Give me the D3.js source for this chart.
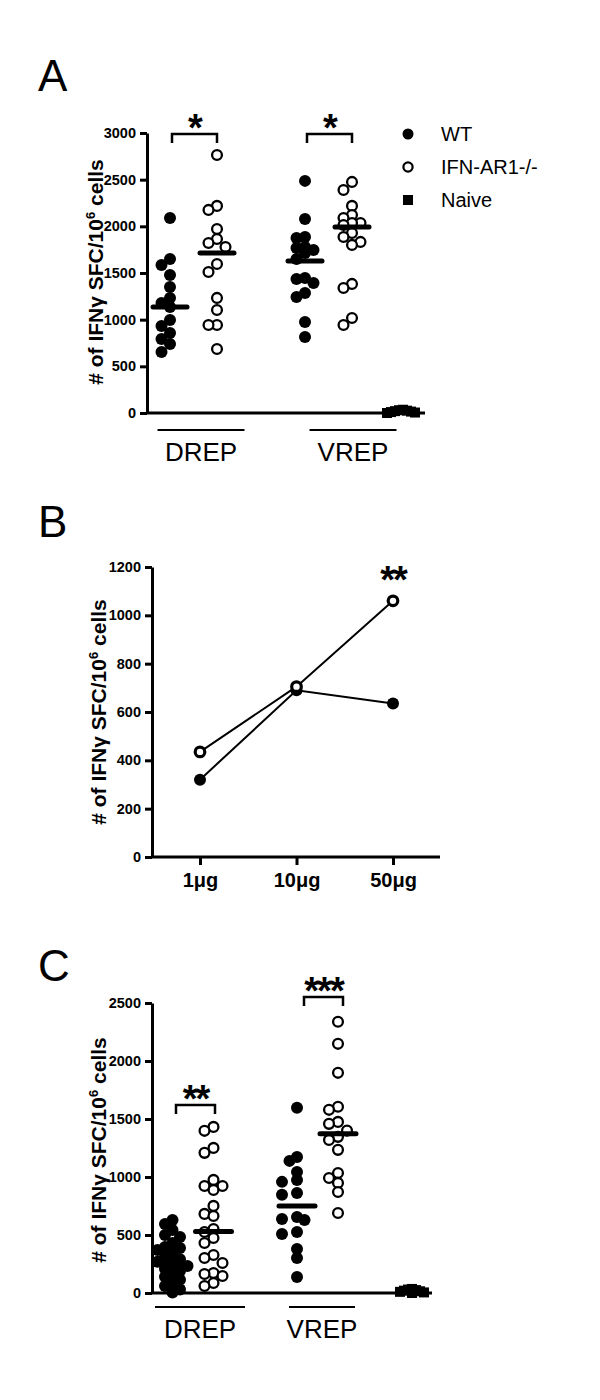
<!DOCTYPE html>
<html><head><meta charset="utf-8">
<script src="https://cdn.jsdelivr.net/npm/d3@7"></script>
<style>body{margin:0;background:#fff}svg{display:block}text{font-family:"Liberation Sans",Arial,sans-serif}</style>
</head><body>
<svg id="c" width="600" height="1400"></svg>
<script>
// ---------- DATA ----------
// Panel A
const aGroups = ["DREP", "VREP"];
const aWT_DREP  = [2090,1651,1586,1479,1350,1233,1179,1136,997,932,857,793,740,654];
const aIFN_DREP = [2765,2219,2176,1972,1865,1822,1779,1597,1511,1233,1104,943,943,686];
const aWT_VREP  = [2487,2079,1886,1876,1779,1768,1747,1715,1651,1447,1436,1393,1286,1243,975,815];
const aIFN_VREP = [2476,2390,2219,2122,2090,2036,2036,2015,1929,1886,1833,1801,1383,1340,1018,943];
const aNaive    = [5,20,35,10,0,25,15,30];
const aMeanWT   = [1136,1629];
const aMeanIFN  = [1715,1994];
const aTicks    = [0,500,1000,1500,2000,2500,3000];
const aSig      = ["*","*"];
const legendLabels = ["WT","IFN-AR1-/-","Naive"];
// Panel B
const bDoses  = ["1\u03bcg","10\u03bcg","50\u03bcg"];
const bWT     = [320,690,635];
const bIFN    = [435,705,1060];
const bTicks  = [0,200,400,600,800,1000,1200];
const bSig    = "**";
// Panel C
const cGroups = ["DREP","VREP"];
const cWT_DREP  = [630,595,544,500,483,430,397,388,371,340,311,290,270,250,232,210,190,165,140,115,90,60,30,5];
const cIFN_DREP = [1432,1398,1251,1208,975,923,923,889,751,682,664,552,526,474,431,328,302,259,173,164,147,86,60];
const cWT_VREP  = [1596,1173,1139,1044,975,958,863,846,656,638,630,526,509,380,302,138];
const cIFN_VREP = [2338,2148,1898,1605,1579,1475,1458,1400,1346,1320,1234,1035,992,949,871,690];
const cNaive    = [5,20,35,10,0,25,15,30];
const cMeanWT   = [245,750];
const cMeanIFN  = [530,1372];
const cTicks    = [0,500,1000,1500,2000,2500];
const cSig      = ["**","***"];
const yLabel = "# of IFN\u03b3 SFC/10";

// ---------- DRAW ----------
const svg = d3.select("#c");
const FONT = '"Liberation Sans",Arial,sans-serif';

function swarm(values, cx, y, step, minDist, maxSlots){
  const placed = [];
  values.map(v=>v).sort((a,b)=>b-a).forEach(v=>{
    const yy = y(v);
    let best = null, bestD = -1;
    for(let k=0;k<=2*maxSlots;k++){
      const off = k===0?0:(k%2?-1:1)*Math.ceil(k/2)*step;
      const x = cx+off;
      const dmin = placed.length? d3.min(placed,p=>Math.hypot(p.x-x,p.y-yy)) : Infinity;
      if(dmin>=minDist){best={x,y:yy,v};break;}
      if(dmin>bestD){bestD=dmin;best={x,y:yy,v};}
    }
    placed.push(best);
  });
  return placed;
}

function yAxis(g, y, ticks, x0){
  const ax = d3.axisLeft(y).tickValues(ticks).tickFormat(d3.format("d")).tickSize(7).tickSizeOuter(0).tickPadding(4);
  const gg = g.append("g").attr("transform",`translate(${x0},0)`).call(ax);
  gg.select(".domain").attr("stroke-width",3).attr("stroke","#000");
  gg.selectAll(".tick line").attr("stroke-width",3).attr("stroke","#000");
  gg.selectAll(".tick text").attr("font-family",FONT).attr("font-weight","bold").attr("font-size",14.5).attr("fill","#000");
}

function yTitle(g, cx, cy){
  const t = g.append("text").attr("transform",`translate(${cx},${cy}) rotate(-90)`)
    .attr("text-anchor","middle").attr("font-weight","bold").attr("font-size",21);
  t.append("tspan").text(yLabel);
  t.append("tspan").attr("dy",-8).attr("font-size",13).text("6");
  t.append("tspan").attr("dy",8).text(" cells");
}

function letter(t, x, y){
  svg.append("text").attr("x",x).attr("y",y).attr("font-size",44).text(t);
}

function dots(g, pts, filled, r){
  g.selectAll(null).data(pts).enter().append("circle")
    .attr("cx",d=>d.x).attr("cy",d=>d.y).attr("r",filled?r:r-1.1)
    .attr("fill",filled?"#000":"#fff").attr("stroke","#000").attr("stroke-width",filled?0:2.3);
}
function meanBar(g, cx, yv, w){
  g.append("line").attr("x1",cx-w/2).attr("x2",cx+w/2).attr("y1",yv).attr("y2",yv)
   .attr("stroke","#000").attr("stroke-width",5).attr("stroke-linecap","round");
}
function bracket(g, x1, x2, y, label, ystar){
  g.append("path").attr("d",`M${x1},${y+9}V${y}H${x2}V${y+9}`).attr("fill","none").attr("stroke","#000").attr("stroke-width",2.5);
  g.append("text").attr("x",(x1+x2)/2).attr("y",ystar).attr("text-anchor","middle")
   .attr("font-size",38).attr("font-weight","bold").attr("letter-spacing",-2).text(label);
}
function squares(g, pts, s){
  g.selectAll(null).data(pts).enter().append("rect")
    .attr("x",d=>d.x-s/2).attr("y",d=>d.y-s/2).attr("width",s).attr("height",s).attr("fill","#000");
}
function groupLabel(g, cx, y, w, text){
  g.append("line").attr("x1",cx-w/2).attr("x2",cx+w/2).attr("y1",y).attr("y2",y).attr("stroke","#000").attr("stroke-width",2);
  g.append("text").attr("x",cx).attr("y",y+31).attr("text-anchor","middle").attr("font-size",26).text(text);
}

// ===== Panel A =====
{
  const g = svg.append("g");
  const y = d3.scaleLinear().domain([0,3000]).range([413,133]);
  const gx = d3.scalePoint().domain(aGroups).range([193.5,328.5]);
  const inner = d3.scalePoint().domain(["WT","IFN"]).range([-23.5,23.5]);
  const xNaive = 403;
  letter("A", 38, 91);
  yTitle(g, 103, 272);
  g.append("line").attr("x1",147).attr("x2",425).attr("y1",413).attr("y2",413).attr("stroke","#000").attr("stroke-width",3);
  yAxis(g, y, aTicks, 147);
  const wt = [aWT_DREP, aWT_VREP], ifn = [aIFN_DREP, aIFN_VREP];
  aGroups.forEach((grp,i)=>{
    const cw = gx(grp)+inner("WT"), ci = gx(grp)+inner("IFN");
    dots(g, swarm(wt[i], cw, y, 8.5, 9, 1), true, 6);
    dots(g, swarm(ifn[i], ci, y, 8.5, 9, 1), false, 6);
    meanBar(g, cw, y(aMeanWT[i]), 34);
    meanBar(g, ci, y(aMeanIFN[i]), 34);
    bracket(g, cw+2, ci, 134, aSig[i], 141);
  });
  squares(g, swarm(aNaive, xNaive, y, 4, 4, 4), 10);
  groupLabel(g, 201, 430, 87, "DREP");
  groupLabel(g, 353, 430, 87, "VREP");
  // legend
  const ly = d3.scalePoint().domain(legendLabels).range([134,200]);
  legendLabels.forEach((l,i)=>{
    const yy = ly(l);
    if(i===0) g.append("circle").attr("cx",408).attr("cy",yy).attr("r",5.5).attr("fill","#000");
    else if(i===1) g.append("circle").attr("cx",408).attr("cy",yy).attr("r",4.6).attr("fill","#fff").attr("stroke","#000").attr("stroke-width",2.2);
    else g.append("rect").attr("x",403).attr("y",yy-5).attr("width",10).attr("height",10).attr("fill","#000");
    g.append("text").attr("x",441).attr("y",yy+7).attr("font-size",20).text(l);
  });
}

// ===== Panel B =====
{
  const g = svg.append("g");
  const y = d3.scaleLinear().domain([0,1200]).range([857,567]);
  const x = d3.scalePoint().domain(bDoses).range([200,393]);
  letter("B", 38, 537);
  yTitle(g, 106, 712);
  yAxis(g, y, bTicks, 152);
  const xa = d3.axisBottom(x).tickSize(8).tickSizeOuter(0).tickPadding(8);
  const gx = g.append("g").attr("transform","translate(0,857)").call(xa);
  gx.select(".domain").remove();
  g.append("line").attr("x1",152).attr("x2",440).attr("y1",857).attr("y2",857).attr("stroke","#000").attr("stroke-width",3);
  gx.selectAll(".tick line").attr("stroke-width",3);
  gx.selectAll(".tick text").attr("font-family",FONT).attr("font-weight","bold").attr("font-size",20).attr("fill","#000");
  const line = d3.line().x((d,i)=>x(bDoses[i])).y(d=>y(d));
  g.append("path").attr("d",line(bWT)).attr("fill","none").attr("stroke","#000").attr("stroke-width",2);
  g.append("path").attr("d",line(bIFN)).attr("fill","none").attr("stroke","#000").attr("stroke-width",2);
  g.selectAll(null).data(bWT).enter().append("circle").attr("cx",(d,i)=>x(bDoses[i])).attr("cy",d=>y(d)).attr("r",6).attr("fill","#000");
  g.selectAll(null).data(bIFN).enter().append("circle").attr("cx",(d,i)=>x(bDoses[i])).attr("cy",d=>y(d)).attr("r",4.8).attr("fill","#fff").attr("stroke","#000").attr("stroke-width",3.2);
  g.append("text").attr("x",x(bDoses[2])).attr("y",593).attr("text-anchor","middle").attr("font-size",38).attr("font-weight","bold").attr("letter-spacing",-2).text(bSig);
}

// ===== Panel C =====
{
  const g = svg.append("g");
  const y = d3.scaleLinear().domain([0,2500]).range([1293,1003]);
  const gx = d3.scalePoint().domain(cGroups).range([193,317.5]);
  const inner = d3.scalePoint().domain(["WT","IFN"]).range([-20.5,20.5]);
  const xNaive = 412;
  letter("C", 38, 981);
  yTitle(g, 106, 1150);
  g.append("line").attr("x1",152).attr("x2",432).attr("y1",1293).attr("y2",1293).attr("stroke","#000").attr("stroke-width",3);
  yAxis(g, y, cTicks, 152);
  const wt = [cWT_DREP, cWT_VREP], ifn = [cIFN_DREP, cIFN_VREP];
  cGroups.forEach((grp,i)=>{
    const cw = gx(grp)+inner("WT"), ci = gx(grp)+inner("IFN");
    dots(g, swarm(wt[i], cw, y, 7.5, 8, 2), true, 6);
    dots(g, swarm(ifn[i], ci, y, 9, 9, 1), false, 6);
    meanBar(g, cw, y(cMeanWT[i]), 36);
    meanBar(g, ci, y(cMeanIFN[i]), 36);
  });
  bracket(g, 176, 215, 1105, cSig[0], 1112);
  bracket(g, 304, 343, 997, cSig[1], 1004);
  squares(g, swarm(cNaive, xNaive, y, 4, 4, 4), 10);
  groupLabel(g, 200, 1307, 90, "DREP");
  groupLabel(g, 322, 1307, 66, "VREP");
}
</script>
</body></html>
